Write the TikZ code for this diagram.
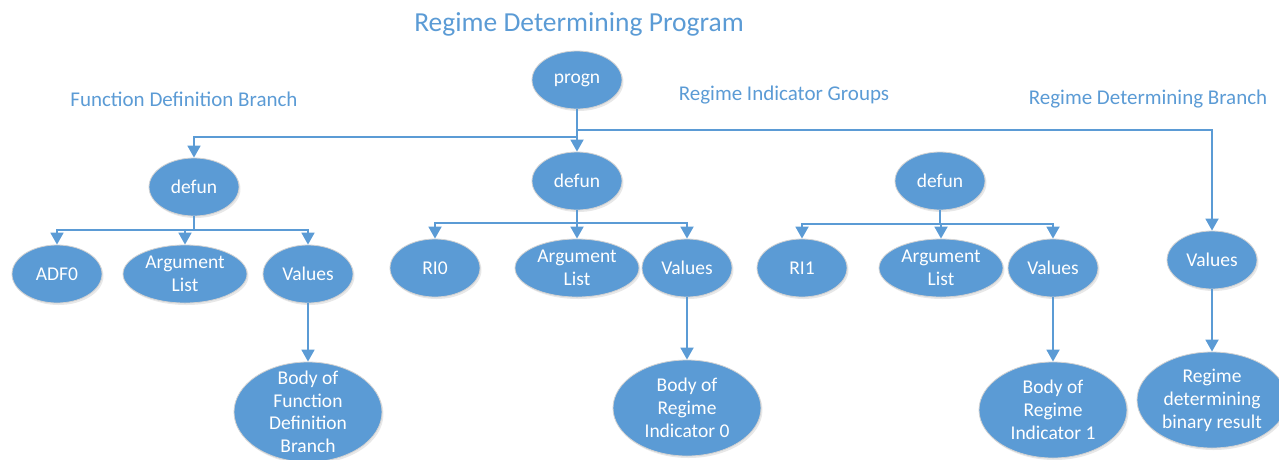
\documentclass[tikz,border=0pt]{standalone}
\usepackage{fontspec}
\setmainfont{Carlito}
\usetikzlibrary{shapes.geometric,arrows.meta,shadows}
\definecolor{ofblue}{HTML}{5B9BD5}
\begin{document}
\begin{tikzpicture}[x=1pt,y=-1pt,
  bubble/.style={ellipse, fill=ofblue, draw=gray!35, line width=0.8pt, text=white, inner sep=0pt, align=center,
    font=\fontsize{19.5}{23}\selectfont,
    drop shadow={opacity=0.18, shadow xshift=1.5pt, shadow yshift=-2pt}},
  small/.style={bubble, minimum width=90pt, minimum height=58pt},
  wide/.style={bubble, minimum width=124pt, minimum height=58pt},
  big/.style={bubble, minimum width=148pt, minimum height=96pt, inner ysep=-25pt},
  conn/.style={draw=ofblue, line width=1.8pt, -{Triangle[width=13pt,length=12pt]}},
  lbl/.style={text=ofblue, font=\fontsize{21}{25}\selectfont, inner sep=0pt},
]
\useasboundingbox (0,0) rectangle (1279,459);
\clip (0,0) rectangle (1279,459);

% titles and group labels
\node[lbl, font=\fontsize{27.5}{32}\selectfont] (title) at (579,24) {Regime Determining Program};
\node[lbl] (lblA) at (184,99) {Function Definition Branch};
\node[lbl] (lblB) at (784,95) {Regime Indicator Groups};
\node[lbl] (lblC) at (1148,99) {Regime Determining Branch};

% bus coordinates
\coordinate (busTL) at (0,137);
\coordinate (busTR) at (0,130);
\coordinate (busA) at (0,230);
\coordinate (busB) at (0,223);
\coordinate (busC) at (0,224);

% root
\node[small] (progn) at (577,80) {progn};

% function definition branch
\node[small] (defA) at (194,187) {defun};
\node[small] (adf)  at (57,274) {ADF0};
\node[wide]  (argA) at (185,274) {Argument\\List};
\node[small] (valA) at (308,274) {Values};
\node[big, minimum height=100pt, font=\fontsize{19.5}{22.5}\selectfont] (bodyA) at (308,412) {Body of\\Function\\Definition\\Branch};

% regime indicator 0
\node[small] (defB) at (577,181) {defun};
\node[small] (ri0)  at (435,268) {RI0};
\node[wide]  (argB) at (577,268) {Argument\\List};
\node[small] (valB) at (687,268) {Values};
\node[big]   (bodyB) at (687,408) {Body of\\Regime\\Indicator 0};

% regime indicator 1
\node[small] (defC) at (940,181) {defun};
\node[small] (ri1)  at (802,268) {RI1};
\node[wide]  (argC) at (941,268) {Argument\\List};
\node[small] (valC) at (1053,268) {Values};
\node[big]   (bodyC) at (1053,410) {Body of\\Regime\\Indicator 1};

% regime determining branch
\node[small] (valR) at (1212,260) {Values};
\node[big, minimum width=150pt] (resR) at (1212,400) {Regime\\determining\\binary result};

% connectors from root
\draw[conn] (progn.south) -- (progn.south |- busTL) -| (defA.north);
\draw[conn] (progn.south) -- (defB.north);
\draw[conn] (progn.south) -- (progn.south |- busTR) -| (valR.north);

% children of defA
\draw[conn] (defA.south) -- (defA.south |- busA) -| (adf.north);
\draw[conn] (defA.south) -- (defA.south |- busA) -| (argA.north);
\draw[conn] (defA.south) -- (defA.south |- busA) -| (valA.north);
\draw[conn] (valA.south) -- (bodyA.north);

% children of defB
\draw[conn] (defB.south) -- (defB.south |- busB) -| (ri0.north);
\draw[conn] (defB.south) -- (argB.north);
\draw[conn] (defB.south) -- (defB.south |- busB) -| (valB.north);
\draw[conn] (valB.south) -- (bodyB.north);

% children of defC
\draw[conn] (defC.south) -- (defC.south |- busC) -| (ri1.north);
\draw[conn] (defC.south) -- (defC.south |- busC) -| (argC.north);
\draw[conn] (defC.south) -- (defC.south |- busC) -| (valC.north);
\draw[conn] (valC.south) -- (bodyC.north);

% regime determining
\draw[conn] (valR.south) -- (resR.north);
\end{tikzpicture}
\end{document}
